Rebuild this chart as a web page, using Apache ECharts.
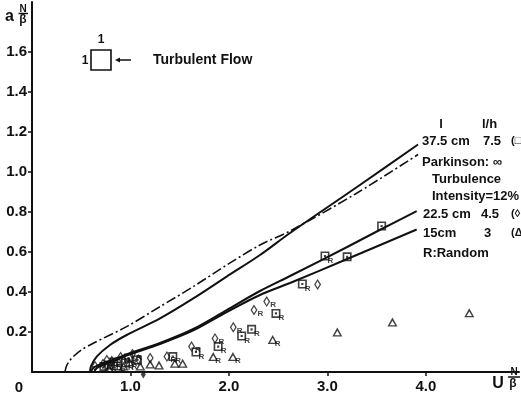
<!DOCTYPE html>
<html>
<head>
<meta charset="utf-8">
<script src="https://cdn.jsdelivr.net/npm/echarts@6/dist/echarts.min.js"></script>
<style>
  html, body { margin: 0; padding: 0; background: #fff; }
  #chart { width: 521px; height: 402px; }
</style>
</head>
<body>
<div id="chart"></div>
<script>
// Tick labels
const xTicks = [1, 2, 3, 4];
const yTicks = [0.2, 0.4, 0.6, 0.8, 1.0, 1.2, 1.4, 1.6];

// Curves: [U N/β, a N/β]
const curve375 = [[0.589,0],[0.6,0.03],[0.657,0.077],[0.792,0.135],[0.961,0.185],[1.3,0.268],[1.638,0.368],[1.977,0.477],[2.315,0.585],[2.62,0.695],[3.3,0.925],[3.92,1.1375]];
const curveParkinson = [[0.335,0],[0.35,0.03],[0.38,0.055],[0.419,0.077],[0.5,0.11],[0.622,0.144],[0.961,0.227],[1.3,0.327],[1.638,0.427],[1.977,0.535],[2.315,0.635],[2.62,0.705],[3.3,0.895],[3.92,1.0875]];
const curve225 = [[0.6,0],[0.62,0.02],[0.7,0.04],[0.79,0.055],[0.96,0.088],[1.3,0.145],[1.638,0.215],[1.977,0.31],[2.315,0.405],[2.62,0.48],[3.2,0.625],[3.53,0.71],[3.906,0.804]];
const curve15 = [[0.63,0],[0.66,0.02],[0.74,0.04],[0.82,0.052],[0.96,0.082],[1.3,0.14],[1.638,0.208],[1.977,0.30],[2.315,0.385],[2.62,0.445],[3.2,0.565],[3.906,0.7125]];

// Measurements: [x, y, random (1) or not (0)]
const squares = [[0.73,0.028,0],[0.78,0.035,1],[0.83,0.05,1],[0.87,0.03,1],[0.95,0.045,1],[0.98,0.07,1],[1.07,0.06,0],[1.43,0.077,1],[1.665,0.10,1],[1.89,0.127,1],[2.129,0.18,1],[2.23,0.2135,1],[2.477,0.293,1],[2.745,0.44,1],[2.975,0.58,1],[3.2,0.576,0],[3.55,0.73,0]];
const diamonds = [[0.64,0.03,0],[0.72,0.04,1],[0.76,0.06,1],[0.81,0.055,1],[0.9,0.075,1],[1.02,0.09,1],[1.08,0.062,0],[1.2,0.07,0],[1.37,0.077,1],[1.62,0.127,1],[1.858,0.168,1],[2.044,0.2235,1],[2.254,0.31,1],[2.383,0.352,1],[2.90,0.4375,0]];
const triangles = [[0.78,0.02,0],[0.93,0.03,0],[0.99,0.05,1],[1.1,0.03,0],[1.2,0.04,0],[1.29,0.035,0],[1.45,0.044,0],[1.53,0.044,0],[1.84,0.077,1],[2.04,0.077,1],[2.444,0.163,1],[3.10,0.20,0],[3.66,0.25,0],[4.44,0.296,0]];
const belowAxis = [[1.13,-0.012]];

const FONT = "'Liberation Sans', Arial, sans-serif";

const SQUARE = 'path://M0 0H10V10H0Z M1.8 1.8V8.2H8.2V1.8Z M3.8 3.8H6.2V6.2H3.8Z';
const DIAMOND = 'path://M4 0L8 6L4 12L0 6Z M4 2.4L1.7 6L4 9.6L6.3 6Z';
const TRIANGLE = 'path://M5 0L10 8.6L0 8.6Z M5 3L2.3 7.4L7.7 7.4Z';

function points(list) {
  return list.map(p => ({
    value: [p[0], p[1]],
    label: { show: p[2] === 1 }
  }));
}

const rLabel = {
  formatter: 'R',
  position: [7, 5],
  fontSize: 8,
  fontWeight: 'bold',
  fontFamily: FONT,
  color: '#111'
};

function curve(data, dashed) {
  return {
    type: 'line',
    data: data,
    showSymbol: false,
    smooth: 0.3,
    silent: true,
    z: 2,
    lineStyle: {
      color: '#111',
      width: dashed ? 1.6 : 2,
      type: dashed ? [10, 3, 2, 3] : 'solid'
    }
  };
}

function scatter(data, symbol, size) {
  return {
    type: 'scatter',
    data: points(data),
    symbol: symbol,
    symbolSize: size,
    z: 3,
    itemStyle: { color: '#111' },
    label: rLabel
  };
}

function txt(x, y, s, size, align) {
  return {
    type: 'text', x: x, y: y,
    style: {
      text: s, fill: '#111', font: 'bold ' + size + 'px ' + FONT,
      textAlign: align || 'left', textVerticalAlign: 'middle'
    }
  };
}

const chart = echarts.init(document.getElementById('chart'), null, { renderer: 'canvas' });

chart.setOption({
  backgroundColor: '#fff',
  animation: false,
  grid: { left: 32, right: 2, top: 2, bottom: 30 },
  xAxis: {
    type: 'value', min: 0, max: 4.945, interval: 1,
    splitLine: { show: false },
    axisLine: { lineStyle: { color: '#111', width: 2 } },
    axisTick: { show: true, length: 4, customValues: xTicks, lineStyle: { color: '#111', width: 1.5 } },
    axisLabel: {
      customValues: xTicks, margin: 7, color: '#111',
      fontSize: 15, fontWeight: 'bold', fontFamily: FONT,
      formatter: v => v.toFixed(1)
    }
  },
  yAxis: {
    type: 'value', min: 0, max: 1.85, interval: 0.2,
    splitLine: { show: false },
    axisLine: { show: true, lineStyle: { color: '#111', width: 2 } },
    axisTick: { show: true, length: 4, customValues: yTicks, lineStyle: { color: '#111', width: 1.5 } },
    axisLabel: {
      customValues: yTicks, margin: 5, color: '#111',
      fontSize: 15, fontWeight: 'bold', fontFamily: FONT,
      formatter: v => v.toFixed(1)
    }
  },
  series: [
    curve(curve375, false),
    curve(curveParkinson, true),
    curve(curve225, false),
    curve(curve15, false),
    scatter(squares, SQUARE, [9, 9]),
    scatter(diamonds, DIAMOND, [7, 11]),
    scatter(triangles, TRIANGLE, [10, 9]),
    {
      type: 'scatter', data: belowAxis, symbol: 'diamond', symbolSize: [5, 8],
      clip: false, z: 3, itemStyle: { color: '#111' }
    }
  ],
  graphic: [
    // axis names
    txt(5, 17, 'a', 16),
    txt(23, 9, 'N', 10, 'center'),
    { type: 'line', shape: { x1: 18.5, y1: 13.5, x2: 28, y2: 13.5 }, style: { stroke: '#111', lineWidth: 1.5 } },
    txt(23, 20, 'β', 12, 'center'),
    txt(19, 388, '0', 15, 'center'),
    txt(498, 384, 'U', 16, 'center'),
    txt(514, 372, 'N', 10, 'center'),
    { type: 'line', shape: { x1: 508, y1: 377, x2: 520, y2: 377 }, style: { stroke: '#111', lineWidth: 1.5 } },
    txt(513, 384, 'β', 12, 'center'),
    // flow sketch
    { type: 'rect', shape: { x: 91, y: 50, width: 20, height: 20 }, style: { fill: 'none', stroke: '#111', lineWidth: 1.6 } },
    txt(101, 40, '1', 12, 'center'),
    txt(85, 61, '1', 12, 'center'),
    { type: 'line', shape: { x1: 118, y1: 60, x2: 131, y2: 60 }, style: { stroke: '#111', lineWidth: 1.5 } },
    { type: 'polygon', shape: { points: [[115, 60], [120, 57.5], [120, 62.5]] }, style: { fill: '#111' } },
    txt(153, 60, 'Turbulent Flow', 14),
    // parameter table
    txt(441, 124, 'l', 13, 'center'),
    txt(482, 124, 'l/h', 13),
    txt(422, 141, '37.5 cm', 13),
    txt(483, 141, '7.5', 13),
    txt(511, 141, '(□', 11),
    txt(422, 162, 'Parkinson: ∞', 13),
    txt(432, 179, 'Turbulence', 13),
    txt(432, 196, 'Intensity=12%', 13),
    txt(423, 214, '22.5 cm', 13),
    txt(481, 214, '4.5', 13),
    txt(511, 214, '(◊', 11),
    txt(423, 233, '15cm', 13),
    txt(484, 233, '3', 13),
    txt(511, 233, '(Δ', 11),
    txt(423, 253, 'R:Random', 13)
  ]
});
</script>
</body>
</html>
